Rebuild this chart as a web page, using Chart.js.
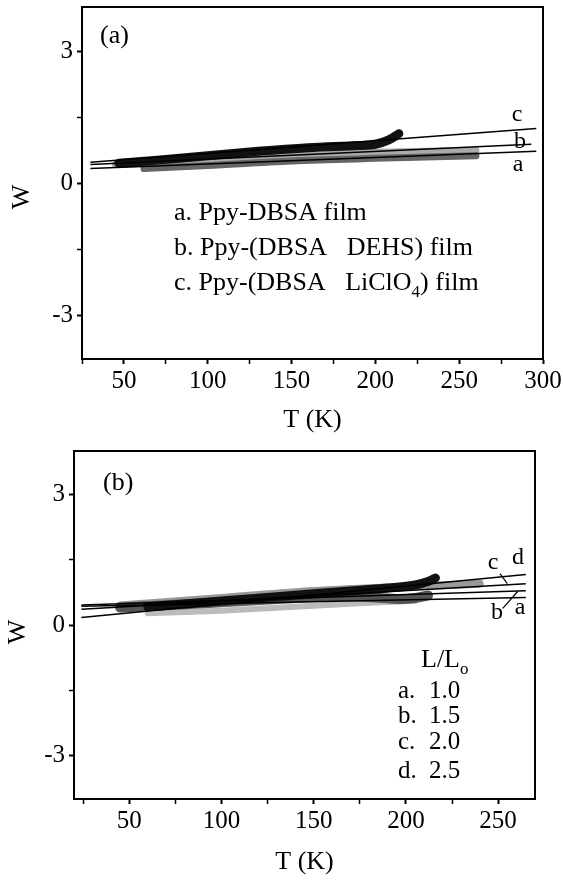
<!DOCTYPE html>
<html>
<head>
<meta charset="utf-8">
<script src="https://cdn.jsdelivr.net/npm/chart.js@4.4.0/dist/chart.umd.min.js"></script>
<style>
body { margin: 0; background: #fff; }
.panel { position: absolute; left: 0; width: 563px; }
#p1 { top: 0; height: 440px; }
#p2 { top: 440px; height: 441px; }
</style>
</head>
<body>
<div class="panel" id="p1"><canvas id="chartA"></canvas></div>
<div class="panel" id="p2"><canvas id="chartB"></canvas></div>
<script>
// panel (a): measured W vs T, [T (K), W]
const filmA = [[62, 0.33], [100, 0.40], [150, 0.50], [200, 0.56], [260, 0.62]];
const filmB = [[45, 0.42], [100, 0.52], [150, 0.64], [200, 0.70], [260, 0.74]];
const filmC = [[47, 0.45], [70, 0.52], [100, 0.62], [130, 0.72], [160, 0.80], [190, 0.85], [200, 0.88], [208, 0.98], [214, 1.12]];
// panel (a): straight fits
const fitA = [[30, 0.33], [296, 0.72]];
const fitB = [[30, 0.42], [293, 0.88]];
const fitC = [[30, 0.47], [296, 1.24]];

// panel (b): measured W vs T for L/Lo = 1.0, 1.5, 2.0, 2.5
const ratioA = [[60, 0.27], [100, 0.33], [140, 0.42], [175, 0.50], [205, 0.56]];
const ratioB = [[45, 0.40], [90, 0.50], [130, 0.60], [170, 0.66], [195, 0.60], [205, 0.62], [212, 0.68]];
const ratioC = [[45, 0.45], [100, 0.62], [150, 0.78], [200, 0.88], [240, 0.95]];
const ratioD = [[60, 0.42], [100, 0.55], [150, 0.72], [190, 0.85], [205, 0.92], [212, 1.00], [216, 1.08]];
// panel (b): straight fits
const fitRA = [[24, 0.43], [265, 0.63]];
const fitRB = [[24, 0.46], [265, 0.79]];
const fitRC = [[24, 0.36], [265, 0.95]];
const fitRD = [[24, 0.17], [265, 1.16]];
// pointer strokes next to the curve letters in (b)
const pointerC = [[251, 1.18], [255, 0.95]];
const pointerB = [[252.5, 0.38], [260.6, 0.77]];

// ticks
const xTicksA = [25, 50, 75, 100, 125, 150, 175, 200, 225, 250, 275, 300];
const xTicksB = [25, 50, 75, 100, 125, 150, 175, 200, 225, 250];
const xLabels = [50, 100, 150, 200, 250, 300];
const yTicks = [-3, -1.5, 0, 1.5, 3];
const yLabels = [-3, 0, 3];

Chart.defaults.font.family = "'Liberation Serif', 'Times New Roman', serif";
Chart.defaults.color = '#000';

const pts = arr => arr.map(([x, y]) => ({ x, y }));

function band(arr, color, width) {
  return { data: pts(arr), borderColor: color, borderWidth: width, pointRadius: 0, tension: 0.35, borderCapStyle: 'round' };
}
function fit(arr) {
  return { data: pts(arr), borderColor: '#000', borderWidth: 1.5, pointRadius: 0 };
}

function scales(xMin, xMax, xTicks, xHeight, yWidth, titlePad) {
  return {
    x: {
      type: 'linear', min: xMin, max: xMax,
      afterBuildTicks: ax => { ax.ticks = xTicks.map(v => ({ value: v })); },
      afterFit: s => { s.height = xHeight; s.paddingLeft = 0; s.paddingRight = 0; },
      ticks: { autoSkip: false, maxRotation: 0, padding: 2, font: { size: 25 },
        callback: v => xLabels.includes(v) ? String(v) : '' },
      grid: { drawOnChartArea: false, tickLength: 5, tickColor: '#000',
        tickWidth: c => (c.tick && c.tick.value % 50 === 0) ? 2 : 1.5 },
      border: { color: '#000', width: 2 },
      title: { display: true, text: 'T (K)', font: { size: 26 }, padding: { top: 0, bottom: titlePad } }
    },
    y: {
      min: -4, max: 4,
      afterBuildTicks: ax => { ax.ticks = yTicks.map(v => ({ value: v })); },
      afterFit: s => { s.width = yWidth; s.paddingTop = 0; s.paddingBottom = 0; },
      ticks: { padding: 4, font: { size: 25 },
        callback: v => yLabels.includes(v) ? String(v) : '' },
      grid: { drawOnChartArea: false, tickLength: 5, tickColor: '#000',
        tickWidth: c => (c.tick && c.tick.value % 3 === 0) ? 2 : 1.5 },
      border: { color: '#000', width: 2 }
    }
  };
}

// frame, letters and legend text
function overlay(texts, pointers) {
  return {
    id: 'overlay',
    afterDraw(chart) {
      const { ctx, chartArea: a, scales: { x, y } } = chart;
      ctx.save();
      ctx.strokeStyle = '#000';
      ctx.lineWidth = 2;
      ctx.beginPath();
      ctx.moveTo(a.left, a.top);
      ctx.lineTo(a.right, a.top);
      ctx.lineTo(a.right, a.bottom);
      ctx.stroke();

      ctx.lineWidth = 1.2;
      pointers.forEach(p => {
        ctx.beginPath();
        ctx.moveTo(x.getPixelForValue(p[0][0]), y.getPixelForValue(p[0][1]));
        ctx.lineTo(x.getPixelForValue(p[1][0]), y.getPixelForValue(p[1][1]));
        ctx.stroke();
      });

      ctx.fillStyle = '#000';
      ctx.textBaseline = 'middle';
      texts.forEach(t => {
        ctx.save();
        ctx.translate(t.x, t.y);
        if (t.rot) ctx.rotate(-Math.PI / 2);
        let cx = 0;
        const runs = t.runs || [[t.text, t.size || 26, 0]];
        if (t.align === 'center') {
          let w = 0;
          runs.forEach(r => { ctx.font = r[1] + "px 'Liberation Serif'"; w += ctx.measureText(r[0]).width; });
          cx = -w / 2;
        }
        runs.forEach(r => {
          ctx.font = r[1] + "px 'Liberation Serif'";
          ctx.fillText(r[0], cx, r[2]);
          cx += ctx.measureText(r[0]).width;
        });
        ctx.restore();
      });
      ctx.restore();
    }
  };
}

const textsA = [
  { text: 'W', x: 22, y: 197, rot: true, align: 'center' },
  { text: '(a)', x: 100, y: 36 },
  { text: 'c', x: 517, y: 115, size: 24, align: 'center' },
  { text: 'b', x: 520, y: 142, size: 24, align: 'center' },
  { text: 'a', x: 518, y: 165, size: 24, align: 'center' },
  { text: 'a. Ppy-DBSA film', x: 174, y: 213 },
  { text: 'b. Ppy-(DBSA   DEHS) film', x: 174, y: 248 },
  { runs: [['c. Ppy-(DBSA   LiClO', 26, 0], ['4', 17, 10], [') film', 26, 0]], x: 174, y: 283 }
];

const textsB = [
  { text: 'W', x: 18, y: 192, rot: true, align: 'center' },
  { text: '(b)', x: 103, y: 43 },
  { text: 'c', x: 493, y: 123, size: 24, align: 'center' },
  { text: 'd', x: 518, y: 118, size: 24, align: 'center' },
  { text: 'b', x: 497, y: 173, size: 24, align: 'center' },
  { text: 'a', x: 520, y: 168, size: 24, align: 'center' },
  { runs: [['L/L', 26, 0], ['o', 17, 10]], x: 421, y: 220 },
  { text: 'a.', x: 398, y: 251, size: 25 }, { text: '1.0', x: 429, y: 251, size: 25 },
  { text: 'b.', x: 398, y: 276, size: 25 }, { text: '1.5', x: 429, y: 276, size: 25 },
  { text: 'c.', x: 398, y: 302, size: 25 }, { text: '2.0', x: 429, y: 302, size: 25 },
  { text: 'd.', x: 398, y: 331, size: 25 }, { text: '2.5', x: 429, y: 331, size: 25 }
];

new Chart(document.getElementById('chartA'), {
  type: 'line',
  data: {
    datasets: [
      fit(fitC), fit(fitB), fit(fitA),
      band(filmC, '#111', 9),
      band(filmA, '#666', 7),
      band(filmB, '#aaa', 7)
    ]
  },
  options: {
    responsive: true, maintainAspectRatio: false, animation: false,
    layout: { padding: { top: 7, right: 20, left: 0, bottom: 0 } },
    plugins: { legend: { display: false }, tooltip: { enabled: false } },
    scales: scales(25, 300, xTicksA, 81, 82, 4)
  },
  plugins: [overlay(textsA, [])]
});

new Chart(document.getElementById('chartB'), {
  type: 'line',
  data: {
    datasets: [
      fit(fitRD), fit(fitRC), fit(fitRB), fit(fitRA),
      band(ratioD, '#111', 9),
      band(ratioB, '#555', 10),
      band(ratioC, '#999', 8),
      band(ratioA, '#bbb', 6)
    ]
  },
  options: {
    responsive: true, maintainAspectRatio: false, animation: false,
    layout: { padding: { top: 11, right: 28, left: 0, bottom: 0 } },
    plugins: { legend: { display: false }, tooltip: { enabled: false } },
    scales: scales(20, 270, xTicksB, 82, 74, 3)
  },
  plugins: [overlay(textsB, [pointerC, pointerB])]
});
</script>
</body>
</html>
